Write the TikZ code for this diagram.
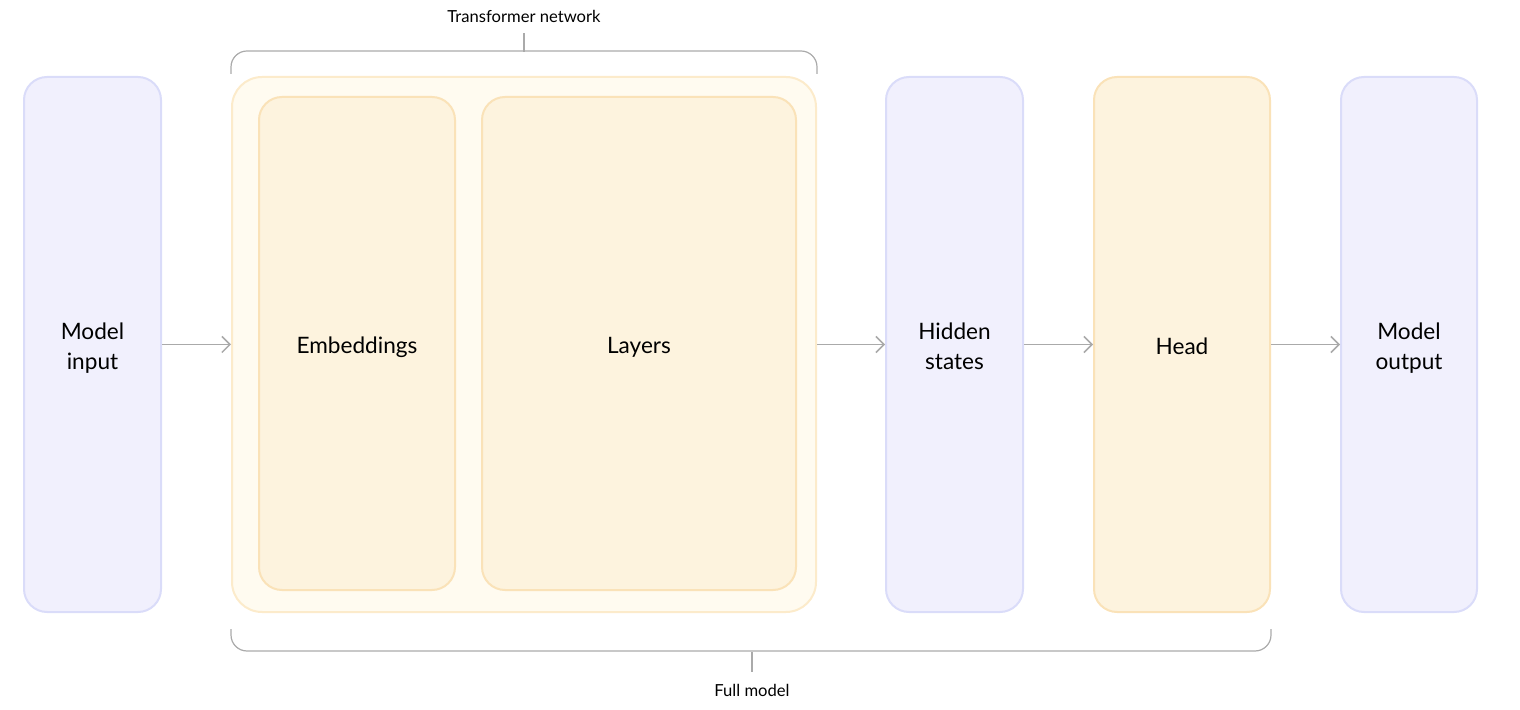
\documentclass[tikz,border=0pt]{standalone}
\usepackage{fontspec}
\setmainfont{Lato}
\usetikzlibrary{arrows.meta}
\definecolor{lavfill}{HTML}{F1F0FD}
\definecolor{lavline}{HTML}{DADCF9}
\definecolor{sandfill}{HTML}{FDF3DE}
\definecolor{sandline}{HTML}{FAE2B8}
\definecolor{paleFill}{HTML}{FFFBF0}
\definecolor{paleLine}{HTML}{FCEBCB}
\definecolor{wire}{HTML}{AAAAAA}
\newcommand{\lbl}[1]{\raisebox{-2.2pt}[\height][\depth]{\begin{tabular}{@{}c@{}}#1\end{tabular}}}
\tikzset{
  block/.style={rectangle, rounded corners=11.5pt, line width=1pt,
    minimum height=267.5pt, font=\fontsize{11.3}{15}\selectfont, inner sep=0pt},
  lavbox/.style={block, draw=lavline, fill=lavfill},
  sandbox/.style={block, draw=sandline, fill=sandfill},
  flow/.style={draw=wire, line width=0.75pt, -{Straight Barb[length=4pt,width=8pt]}},
  brace/.style={draw=wire, line width=0.6pt, rounded corners=8pt},
  tag/.style={font=\fontsize{8.3}{10}\selectfont, inner sep=0pt}
}

\begin{document}
\begin{tikzpicture}[x=0.5pt, y=-0.5pt]
  \def\Ym{344.5};
  \def\Yi{343.5};
  \useasboundingbox (0,0) rectangle (1520,710);
        % boxes
        \node[lavbox, minimum width=68.5pt] (input) at (92.5, \Ym) {\lbl{Model\\input}};
        \node[block, draw=paleLine, fill=paleFill, rounded corners=15pt, minimum width=292pt] (trans) at (524, \Ym) {};
        \node[sandbox, minimum width=98pt, minimum height=246.5pt] (emb) at (357, \Yi) {\lbl{Embeddings}};
        \node[sandbox, minimum width=157pt, minimum height=246.5pt] (layers) at (639, \Yi) {\lbl{Layers}};
        \node[lavbox, minimum width=68.5pt] (hidden) at (954.5, \Ym) {\lbl{Hidden\\states}};
        \node[sandbox, minimum width=88pt] (head) at (1182, \Ym) {\lbl{Head}};
        \node[lavbox, minimum width=68pt] (output) at (1409, \Ym) {\lbl{Model\\output}};
        % arrows
	\draw[flow] (input) -- (trans);
        \draw[flow] (trans) -- (hidden);
        \draw[flow] (hidden) -- (head);
        \draw[flow] (head) -- (output);
        % brackets
        \coordinate (tl) at ([yshift=1pt]trans.north west);
        \coordinate (tr) at ([yshift=1pt]trans.north east);
        \draw[brace] (tl) -- ++(0,-23) -| (tr);
        \node[tag] (tnet) at (524, 16) {Transformer network};
        \draw[draw=wire, line width=0.6pt] (524, 52) -- (tnet.south |- 0, 33);
        \coordinate (bl) at ([yshift=-8pt]trans.south west);
        \coordinate (br) at ([yshift=-8pt]head.south east);
        \draw[brace] (bl) -- ++(0,22) -| (br);
        \node[tag] (full) at (752, 690) {Full model};
        \draw[draw=wire, line width=0.6pt] (752, 652) -- (752, 672);
\end{tikzpicture}
\end{document}
